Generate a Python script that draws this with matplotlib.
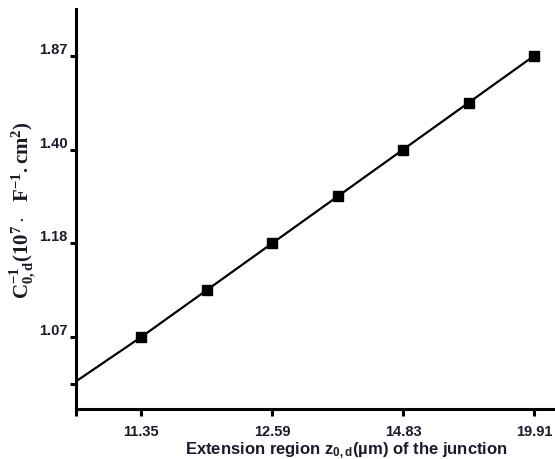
import matplotlib
matplotlib.use("Agg")
import matplotlib.pyplot as plt

# points are evenly spaced on the original chart; labels are only on every second one
point_index = [0, 1, 2, 3, 4, 5, 6]
point_level = [0, 1, 2, 3, 4, 5, 6]
x_tick_pos = [-1, 0, 2, 4, 6]
x_tick_labels = ["", "11.35", "12.59", "14.83", "19.91"]
y_tick_pos = [-1, 0, 2, 4, 6]
y_tick_labels = ["", "1.07", "1.18", "1.40", "1.87"]
fit_start = (-1, -0.95)  # fitted line runs back to the y axis

txt_color = "#1a1a2a"

plt.rcParams["font.family"] = ["Liberation Sans", "DejaVu Sans"]
plt.rcParams["mathtext.fontset"] = "custom"
plt.rcParams["mathtext.rm"] = "Liberation Serif:bold"
plt.rcParams["mathtext.it"] = "Liberation Serif:bold"
plt.rcParams["mathtext.bf"] = "Liberation Serif:bold"
plt.rcParams["mathtext.sf"] = "Liberation Sans:bold"

fig = plt.figure(figsize=(5.55, 4.6), dpi=100)
ax = fig.add_axes([76 / 555, 50 / 460, 1 - 76 / 555, 400 / 460])

ax.plot([fit_start[0]] + point_index, [fit_start[1]] + point_level,
        color="black", lw=1.6, zorder=2)
ax.plot(point_index, point_level, ls="none", marker="s", ms=7,
        color="black", zorder=3)

ax.set_xlim(-1, 6.32)
ax.set_ylim(-1.54, 7.0)

for side in ["top", "right"]:
    ax.spines[side].set_visible(False)
for side in ["left", "bottom"]:
    ax.spines[side].set_linewidth(2.2)

ax.set_xticks(x_tick_pos)
ax.set_xticklabels(x_tick_labels, fontsize=10.5, fontweight="bold", color=txt_color)
ax.set_yticks(y_tick_pos)
ax.set_yticklabels(y_tick_labels, fontsize=10.5, fontweight="bold", color=txt_color)
ax.tick_params(axis="x", direction="out", length=5, width=2.2, pad=6)
ax.tick_params(axis="y", direction="out", length=4, width=2.2, pad=2)
for lab in ax.get_yticklabels():
    lab.set_va("bottom")

ax.set_xlabel(r"Extension region $\mathsf{z_{0,d}}$(µm) of the junction",
              fontsize=12, fontweight="bold", color=txt_color, labelpad=0)
ax.xaxis.set_label_coords(0.565, -0.075)
ax.set_ylabel(r"$\mathrm{C^{-1}_{0,d}(10^{7}\cdot\ \ F^{-1}.cm^{2})}$",
              fontsize=15, color=txt_color)
ax.yaxis.set_label_coords(-0.08, 0.5)

fig.savefig("out.png", dpi=100)
